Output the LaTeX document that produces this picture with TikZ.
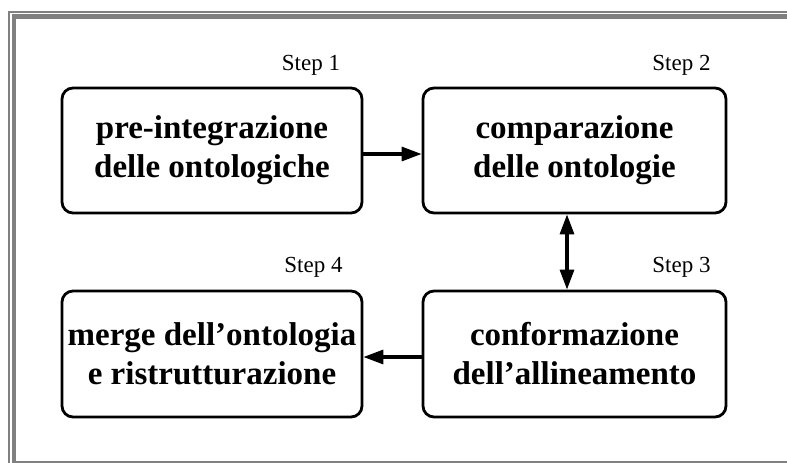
\documentclass[tikz,border=0pt]{standalone}
\usepackage{fontspec}
\setmainfont{Liberation Serif}
\usetikzlibrary{arrows.meta}
\definecolor{framegrey}{HTML}{808080}
\begin{document}
\begin{tikzpicture}[x=1pt,y=-1pt,
  stepbox/.style={draw=black, line width=2.8pt, rounded corners=11pt, fill=white,
    minimum width=#1, align=center, inner sep=0pt,
    font=\fontsize{33}{39}\selectfont\bfseries},
  steplabel/.style={font=\fontsize{23}{26}\selectfont, anchor=base, inner sep=0pt},
  tip/.style={Triangle[length=20pt,width=14pt]},
  conn/.style={line width=3.2pt, -{Triangle[length=20pt,width=14pt]}},
  conn2/.style={line width=3.2pt, {Triangle[length=20pt,width=14pt]}-{Triangle[length=20pt,width=14pt]}}]
\useasboundingbox (0,0) rectangle (787,463);
\fill[white] (0,0) rectangle (787,463);
% frame
\draw[framegrey, line width=2pt] (9,463) -- (9,12) -- (787,12);
\draw[framegrey, line width=4.5pt] (14,463) -- (14,16.5) -- (787,16.5);
\draw[framegrey, line width=2pt] (14,461.5) -- (787,461.5);
% boxes
\node[stepbox, minimum width=300pt, minimum height=125pt] (b1) at (212,150.5) {pre-integrazione\\delle ontologiche};
\node[stepbox, minimum width=303pt, minimum height=125pt] (b2) at (574.5,150.5) {comparazione\\delle ontologie};
\node[stepbox, minimum width=303pt, minimum height=126pt] (b3) at (574.5,354) {conformazione\\dell’allineamento};
\node[stepbox, minimum width=300pt, minimum height=126pt] (b4) at (212,354) {merge dell’ontologia\\e ristrutturazione};
% labels
\node[steplabel] (s1) at (311,70) {Step 1};
\node[steplabel] (s2) at (681.5,70) {Step 2};
\node[steplabel] (s3) at (681.5,272) {Step 3};
\node[steplabel] (s4) at (313.5,272) {Step 4};
% connectors
\draw[conn] ([yshift=-3.5pt]b1.east) -- ([yshift=-3.5pt]b2.west);
\draw[conn2] ([xshift=-7.5pt]b2.south) -- ([xshift=-7.5pt]b3.north);
\draw[conn] ([yshift=-3pt]b3.west) -- ([yshift=-3pt]b4.east);
\end{tikzpicture}
\end{document}
